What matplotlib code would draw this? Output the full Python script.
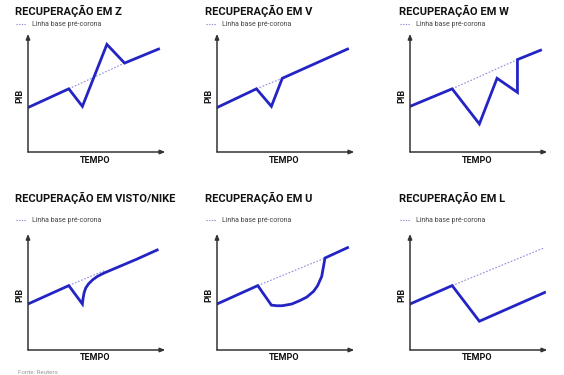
import matplotlib
matplotlib.use("Agg")
from matplotlib import pyplot as plt

# chart data: x = time (0..100 along the axis), y = GDP (0..100 up the axis)
titles = ["RECUPERAÇÃO EM Z", "RECUPERAÇÃO EM V", "RECUPERAÇÃO EM W",
          "RECUPERAÇÃO EM VISTO/NIKE", "RECUPERAÇÃO EM U", "RECUPERAÇÃO EM L"]

z_x = [0, 30, 40, 58, 71, 96]
z_y = [38, 54, 39, 92, 76, 88]
z_base_x = [30, 71]
z_base_y = [54, 76]

v_x = [0, 29, 40, 48, 96]
v_y = [38, 54, 39, 63, 88]
v_base_x = [29, 48]
v_base_y = [54, 63]

w_x = [0, 31, 51, 64, 79, 79, 96]
w_y = [39, 54, 24, 63, 51, 79, 87]
w_base_x = [31, 79]
w_base_y = [54, 79]

nike_x = [0, 30, 40, 40.5, 41.3, 42.5, 44.5, 47.5, 51, 56, 62, 70, 80, 95]
nike_y = [40, 56, 40, 45, 50, 54, 57.5, 61, 64, 67, 70, 74, 79, 87]
nike_base_x = [30, 56]
nike_base_y = [56, 69]

u_x = [0, 30, 40, 44, 48, 55, 61, 66, 71, 74, 77, 79.4, 96]
u_y = [40, 56, 39, 38.5, 38.5, 40, 43, 46, 51, 56, 64, 80, 89]
u_base_x = [30, 79.4]
u_base_y = [56, 80]

l_x = [0, 31, 51, 99]
l_y = [40, 56, 25, 50]
l_base_x = [31, 99]
l_base_y = [56, 89]

series = [(z_x, z_y, z_base_x, z_base_y), (v_x, v_y, v_base_x, v_base_y),
          (w_x, w_y, w_base_x, w_base_y), (nike_x, nike_y, nike_base_x, nike_base_y),
          (u_x, u_y, u_base_x, u_base_y), (l_x, l_y, l_base_x, l_base_y)]

W, H = 564, 375
blue = '#2424c4'
dots = '#8c8cdc'
axcol = '#333333'
cond = ['Liberation Sans Narrow', 'Roboto', 'DejaVu Sans']

fig = plt.figure(figsize=(W/100, H/100), dpi=100)

col_x = [28, 217, 410]        # pixel x of y-axis
row_bottom = [152, 350]       # pixel y of x-axis
row_top = [35, 235]
title_x = [15, 205, 399]
title_y = [11, 198]
legend_y = [24, 220]

arrow = dict(arrowstyle='-|>,head_width=0.12,head_length=0.3', color=axcol, lw=1.1,
             shrinkA=0, shrinkB=0)

for i, (lx, ly, bx, by) in enumerate(series):
    r, c = divmod(i, 3)
    x0 = col_x[c]
    yb, yt = row_bottom[r], row_top[r]
    ax = fig.add_axes([x0/W, (H-yb)/H, 136/W, (yb-yt)/H])
    ax.set_xlim(0, 100)
    ax.set_ylim(0, 100)
    ax.axis('off')
    ax.plot(bx, by, color=dots, lw=0.8, ls=(0, (1.5, 1.5)))
    ax.plot(lx, ly, color=blue, lw=2.0, solid_joinstyle='miter')
    ax.annotate('', xy=(0, 101), xytext=(0, 0), arrowprops=arrow, annotation_clip=False)
    ax.annotate('', xy=(101, 0), xytext=(0, 0), arrowprops=arrow, annotation_clip=False)

    fig.text(title_x[c]/W, 1 - title_y[r]/H, titles[i], fontsize=8, fontweight='bold',
             family=cond, color='#111111', va='center', ha='left')
    ly_ = 1 - legend_y[r]/H
    fig.add_artist(plt.Line2D([(title_x[c]+1)/W, (title_x[c]+11)/W], [ly_, ly_],
                              color=dots, lw=0.8, ls=(0, (1.2, 1.2))))
    fig.text((title_x[c]+17)/W, ly_, 'Linha base pré-corona', fontsize=5, family=cond,
             color='#444444', va='center', ha='left')
    fig.text((x0 + 67)/W, 1 - (yb + 8)/H, 'TEMPO', fontsize=6.5, fontweight='bold',
             family=cond, color='#111111', va='center', ha='center')
    fig.text((x0 - 8)/W, 1 - ((yb + yt)/2 + 2)/H, 'PIB', fontsize=6.5, fontweight='bold',
             family=cond, color='#111111', va='center', ha='center', rotation=90)

fig.text(18/W, 1 - 373/H, 'Fonte: Reuters', fontsize=4.5, family=cond, color='#999999',
         va='center', ha='left')

fig.savefig('out.png', dpi=100, facecolor='white')
